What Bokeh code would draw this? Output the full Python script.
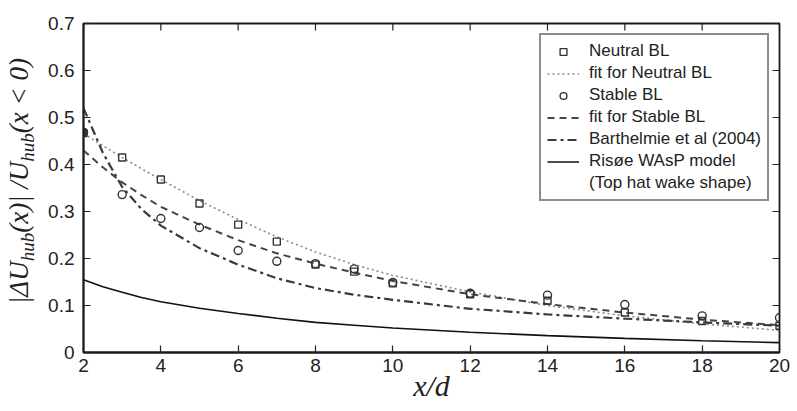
import math
from bokeh.plotting import figure
from bokeh.models import Legend, LegendItem, FixedTicker, Range1d, Div
from bokeh.layouts import row
from bokeh.embed import file_html
from bokeh.resources import INLINE

# ---- data ----
x_points = [2, 3, 4, 5, 6, 7, 8, 9, 10, 12, 14, 16, 18, 20]
neutral_bl = [0.467, 0.415, 0.368, 0.317, 0.272, 0.236, 0.187, 0.172, 0.147, 0.124, 0.110, 0.085, 0.067, 0.057]
stable_bl = [0.468, 0.336, 0.285, 0.266, 0.217, 0.194, 0.189, 0.178, 0.149, 0.126, 0.122, 0.102, 0.078, 0.074]

x_curve = [2, 2.5, 3, 3.5, 4, 5, 6, 7, 8, 9, 10, 12, 14, 16, 18, 20]
fit_neutral = [0.466, 0.440, 0.415, 0.391, 0.368, 0.323, 0.283, 0.246, 0.214, 0.187, 0.164, 0.129, 0.100, 0.078, 0.061, 0.047]
fit_stable = [0.430, 0.394, 0.362, 0.335, 0.310, 0.272, 0.239, 0.211, 0.189, 0.170, 0.152, 0.124, 0.103, 0.085, 0.070, 0.058]
barthelmie = [0.520, 0.425, 0.352, 0.305, 0.270, 0.222, 0.187, 0.158, 0.137, 0.123, 0.112, 0.093, 0.081, 0.072, 0.064, 0.057]
risoe_wasp = [0.155, 0.140, 0.128, 0.117, 0.108, 0.094, 0.083, 0.073, 0.064, 0.058, 0.052, 0.043, 0.036, 0.030, 0.025, 0.021]

x_ticks = [2, 4, 6, 8, 10, 12, 14, 16, 18, 20]
y_ticks = [0, 0.1, 0.2, 0.3, 0.4, 0.5, 0.6, 0.7]
y_tick_labels = ["0", "0.1", "0.2", "0.3", "0.4", "0.5", "0.6", "0.7"]

legend_labels = ["Neutral BL", "fit for Neutral BL", "Stable BL", "fit for Stable BL",
                 "Barthelmie et al (2004)", "Risøe WAsP model", "(Top hat wake shape)"]
x_title = "x/d"
y_title_html = "|ΔU<sub>hub</sub>(x)| /U<sub>hub</sub>(x &lt; 0)"

X_MIN, X_MAX, Y_MIN, Y_MAX = 2, 20, 0, 0.7

# ---- figure ----
p = figure(width=754, height=411, x_range=Range1d(X_MIN, X_MAX), y_range=Range1d(Y_MIN, Y_MAX),
           output_backend="svg", toolbar_location=None,
           min_border_left=40, min_border_right=18, min_border_top=23, min_border_bottom=59)
p.grid.visible = False
p.outline_line_color = "#1a1a1a"
p.outline_line_width = 1.8
p.background_fill_color = "white"
p.border_fill_color = "white"

tick_font = "Liberation Sans"
math_font = "Liberation Serif"

for ax in (p.xaxis[0], p.yaxis[0]):
    ax.axis_line_color = "#1a1a1a"
    ax.axis_line_width = 1.8
    ax.major_tick_line_color = "#222222"
    ax.major_tick_line_width = 1.2
    ax.major_tick_in = 7
    ax.major_tick_out = 0
    ax.minor_tick_line_color = None
    ax.major_label_text_font = tick_font
    ax.major_label_text_color = "#222222"
    ax.major_label_text_font_size = "19px"

p.xaxis.ticker = FixedTicker(ticks=x_ticks)
p.yaxis.ticker = FixedTicker(ticks=y_ticks)
p.yaxis.major_label_overrides = {t: l for t, l in zip(y_ticks, y_tick_labels)}
p.xaxis.major_label_standoff = 6
p.yaxis.major_label_standoff = 9

p.xaxis.axis_label = x_title
p.xaxis.axis_label_text_font = math_font
p.xaxis.axis_label_text_font_style = "italic"
p.xaxis.axis_label_text_font_size = "30px"
p.xaxis.axis_label_text_color = "#222222"
p.xaxis.axis_label_standoff = -6

# inward ticks on the top and right edges (half of each dash is clipped by the frame)
p.scatter(x_ticks, [Y_MAX] * len(x_ticks), marker="dash", angle=math.pi / 2, size=14,
          line_color="#222222", line_width=1.2)
p.scatter([X_MAX] * len(y_ticks), y_ticks, marker="dash", size=14,
          line_color="#222222", line_width=1.2)

# ---- curves ----
r_fn = p.line(x_curve, fit_neutral, line_color="#8a8a8a", line_width=1.6, line_dash="2 3")
r_fs = p.line(x_curve, fit_stable, line_color="#444444", line_width=2, line_dash="7 5")
r_ba = p.line(x_curve, barthelmie, line_color="#3a3a3a", line_width=2.2, line_dash="9 4 3 4")
r_ri = p.line(x_curve, risoe_wasp, line_color="#111111", line_width=1.6)
r_dummy = p.line([], [], line_alpha=0)

r_sq = p.scatter(x_points, neutral_bl, marker="square", size=7, fill_color=None,
                 line_color="#333333", line_width=1.4)
r_ci = p.scatter(x_points, stable_bl, marker="circle", size=8, fill_color=None,
                 line_color="#333333", line_width=1.4)
# the overlapping first pair of points looks filled in the reference
p.scatter(x_points[:1], stable_bl[:1], marker="circle", size=8, fill_color="#333333",
          line_color="#333333", line_width=1.4)

legend = Legend(items=[
    LegendItem(label=legend_labels[0], renderers=[r_sq]),
    LegendItem(label=legend_labels[1], renderers=[r_fn]),
    LegendItem(label=legend_labels[2], renderers=[r_ci]),
    LegendItem(label=legend_labels[3], renderers=[r_fs]),
    LegendItem(label=legend_labels[4], renderers=[r_ba]),
    LegendItem(label=legend_labels[5], renderers=[r_ri]),
    LegendItem(label=legend_labels[6], renderers=[r_dummy]),
], location="top_right")
legend.margin = 10
legend.padding = 6
legend.spacing = 2
legend.glyph_width = 32
legend.glyph_height = 17
legend.label_height = 17
legend.label_standoff = 10
legend.label_text_font = tick_font
legend.label_text_font_size = "17px"
legend.label_text_color = "#222222"
legend.border_line_color = "#1a1a1a"
legend.border_line_width = 2
legend.background_fill_color = "white"
legend.background_fill_alpha = 1
p.add_layout(legend)

# ---- rotated y-axis title as real HTML text (with subscripts) ----
ylab_html = (
    '<div style="position:relative; margin-left:19px; margin-top:181px; width:0; height:0;">'
    '<div style="position:absolute; left:0; top:0; white-space:nowrap; line-height:1;'
    " font-family:'Liberation Serif'; font-style:italic; font-size:27px; color:#222222;"
    ' transform: translate(-50%, -50%) rotate(-90deg);">'
    + y_title_html.replace("<sub>", '<sub style="font-size:19px; vertical-align:-6px; line-height:0;">')
    + '</div></div>'
)
ylab = Div(text=ylab_html, width=43, height=411, margin=(0, 0, 0, 0))

layout = row(ylab, p, spacing=0)
open("out.html", "w").write(file_html(layout, INLINE))
